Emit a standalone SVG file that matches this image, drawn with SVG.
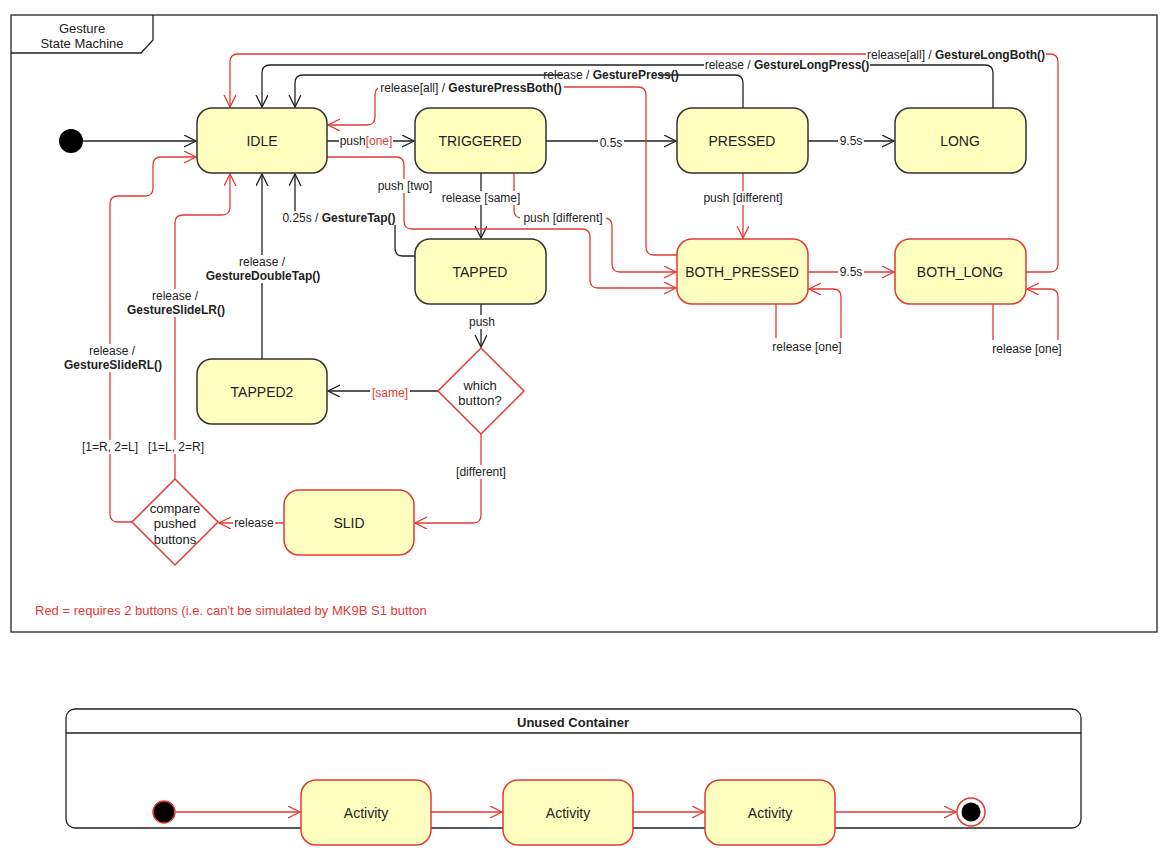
<svg xmlns="http://www.w3.org/2000/svg" width="1171" height="860" viewBox="0 0 1171 860">
<style>
text{font-family:"Liberation Sans",Arial,sans-serif;fill:#222}
.n{font-size:14px;text-anchor:middle;dominant-baseline:central}
.l{font-size:12px;text-anchor:middle;dominant-baseline:central}
.b{font-weight:bold}
.r{fill:#e53935}
.st{fill:#ffffc0;stroke:#333;stroke-width:1.5}
.sr{fill:#ffffc0;stroke:#e53935;stroke-width:1.5}
.k{fill:none;stroke:#222;stroke-width:1.3;marker-end:url(#ak)}
.kr{fill:none;stroke:#e53935;stroke-width:1.3;marker-end:url(#ar)}
.kn{fill:none;stroke:#222;stroke-width:1.3}
.bg{fill:#fff}
</style>
<defs>
<marker id="ak" markerWidth="14" markerHeight="14" refX="12" refY="6" orient="auto" markerUnits="userSpaceOnUse"><path d="M0,0 L12,6 L0,12" fill="none" stroke="#222" stroke-width="1.3"/></marker>
<marker id="ar" markerWidth="14" markerHeight="14" refX="12" refY="6" orient="auto" markerUnits="userSpaceOnUse"><path d="M0,0 L12,6 L0,12" fill="none" stroke="#e53935" stroke-width="1.3"/></marker>
</defs>
<rect width="1171" height="860" fill="#fff"/>
<g id="frame">
<rect x="11" y="15" width="1146" height="617" fill="none" stroke="#222" stroke-width="1.3"/>
<path d="M11,53 H141 L153,40 V15" fill="none" stroke="#222" stroke-width="1.3"/>
<text class="l" x="82" y="28" style="font-size:13px">Gesture</text>
<text class="l" x="82" y="43" style="font-size:13px">State Machine</text>
</g>
<g id="connectors">
<path class="k" d="M83,141 H196"/>
<path class="k" d="M327,141 H414"/>
<path class="k" d="M546,141 H676"/>
<path class="k" d="M808,141 H894"/>
<path class="k" d="M481,173 V238"/>
<path class="k" d="M415,256 H403 Q395,256 395,248 V218 H295 V174"/>
<path class="k" d="M262,359 V174"/>
<path class="k" d="M481,304 V347"/>
<path class="k" d="M438,391 H328"/>
<path class="kr" d="M481,434 V515 Q481,523 473,523 H415"/>
<path class="kr" d="M284,523 H219"/>
<path class="kr" d="M175,479 V223 Q175,215 183,215 H222 Q230,215 230,207 V174"/>
<path class="kr" d="M132,522 H118 Q110,522 110,514 V204 Q110,196 118,196 H145 Q153,196 153,188 V165 Q153,157 161,157 H196"/>
<path class="kr" d="M327,157 H396 Q404,157 404,165 V221 Q404,229 412,229 H582 Q590,229 590,237 V280 Q590,288 598,288 H676"/>
<path class="kr" d="M514,173 V210 Q514,218 522,218 H604 Q612,218 612,226 V264 Q612,272 620,272 H676"/>
<path class="kr" d="M677,255 H654 Q646,255 646,247 V95 Q646,87 638,87 H383 Q375,87 375,95 V117 Q375,125 367,125 H328"/>
<path class="k" d="M743,108 V83 Q743,75 735,75 H303 Q295,75 295,83 V107"/>
<path class="k" d="M993,108 V73 Q993,65 985,65 H270 Q262,65 262,73 V107"/>
<path class="kr" d="M1026,272 H1050 Q1058,272 1058,264 V62 Q1058,54 1050,54 H238 Q230,54 230,62 V107"/>
<path class="kr" d="M743,173 V238"/>
<path class="kr" d="M808,272 H894"/>
<path class="kr" d="M776,304 V338 M841,338 V297 Q841,289 833,289 H809"/>
<path class="kr" d="M993,304 V340 M1058,340 V297 Q1058,289 1050,289 H1027"/>
<g>
<rect class="bg" x="339" y="134" width="54" height="14"/><text class="l" x="366" y="141">push<tspan class="r">[one]</tspan></text>
<rect class="bg" x="598" y="136" width="26" height="14"/><text class="l" x="611" y="143">0.5s</text>
<rect class="bg" x="838" y="134" width="26" height="14"/><text class="l" x="851" y="141">9.5s</text>
<rect class="bg" x="440" y="191" width="82" height="14"/><text class="l" x="481" y="198">release [same]</text>
<rect class="bg" x="282" y="211" width="115" height="14"/><text class="l" x="339" y="218">0.25s / <tspan class="b">GestureTap()</tspan></text>
<rect class="bg" x="205" y="255" width="116" height="28"/><text class="l" x="262" y="262">release /</text><text class="l b" x="263" y="276">GestureDoubleTap()</text>
<rect class="bg" x="466" y="315" width="32" height="14"/><text class="l" x="482" y="322">push</text>
<rect class="bg" x="370" y="386" width="40" height="14"/><text class="l r" x="390" y="393">[same]</text>
<rect class="bg" x="454" y="465" width="54" height="14"/><text class="l" x="481" y="472">[different]</text>
<rect class="bg" x="233" y="516" width="42" height="14"/><text class="l" x="254" y="523">release</text>
<rect class="bg" x="146" y="440" width="60" height="14"/><text class="l" x="176" y="447">[1=L, 2=R]</text>
<rect class="bg" x="80" y="440" width="60" height="14"/><text class="l" x="110" y="447">[1=R, 2=L]</text>
<rect class="bg" x="125" y="289" width="102" height="28"/><text class="l" x="175" y="296">release /</text><text class="l b" x="176" y="310">GestureSlideLR()</text>
<rect class="bg" x="63" y="344" width="100" height="28"/><text class="l" x="112" y="351">release /</text><text class="l b" x="113" y="365">GestureSlideRL()</text>
<rect class="bg" x="374" y="179" width="62" height="14"/><text class="l" x="405" y="186">push [two]</text>
<rect class="bg" x="520" y="211" width="86" height="14"/><text class="l" x="563" y="218">push [different]</text>
<rect class="bg" x="378" y="81" width="186" height="14"/><text class="l" x="471" y="88">release[all] / <tspan class="b">GesturePressBoth()</tspan></text>
<rect class="bg" x="563" y="68" width="96" height="14"/><text class="l" x="611" y="75">release / <tspan class="b">GesturePress()</tspan></text>
<rect class="bg" x="704" y="58" width="166" height="14"/><text class="l" x="787" y="65">release / <tspan class="b">GestureLongPress()</tspan></text>
<rect class="bg" x="866" y="47" width="180" height="14"/><text class="l" x="956" y="55">release[all] / <tspan class="b">GestureLongBoth()</tspan></text>
<rect class="bg" x="703" y="191" width="80" height="14"/><text class="l" x="743" y="198">push [different]</text>
<rect class="bg" x="838" y="265" width="26" height="14"/><text class="l" x="851" y="272">9.5s</text>
<text class="l" x="807" y="347">release [one]</text>
<text class="l" x="1027" y="349">release [one]</text>
</g>
</g>
<g id="init"><circle cx="71" cy="141" r="12" fill="#000"/></g>
<g id="IDLE"><rect class="st" x="197" y="108" width="130" height="65" rx="15"/><text class="n" x="262" y="141">IDLE</text></g>
<g id="TRIGGERED"><rect class="st" x="415" y="108" width="131" height="65" rx="15"/><text class="n" x="480" y="141">TRIGGERED</text></g>
<g id="PRESSED"><rect class="st" x="677" y="108" width="131" height="65" rx="15"/><text class="n" x="742" y="141">PRESSED</text></g>
<g id="LONG"><rect class="st" x="895" y="108" width="131" height="65" rx="15"/><text class="n" x="960" y="141">LONG</text></g>
<g id="TAPPED"><rect class="st" x="415" y="239" width="131" height="65" rx="15"/><text class="n" x="480" y="272">TAPPED</text></g>
<g id="BOTH_PRESSED"><rect class="sr" x="677" y="239" width="131" height="65" rx="15"/><text class="n" x="742" y="272">BOTH_PRESSED</text></g>
<g id="BOTH_LONG"><rect class="sr" x="895" y="239" width="131" height="65" rx="15"/><text class="n" x="960" y="272">BOTH_LONG</text></g>
<g id="TAPPED2"><rect class="st" x="197" y="359" width="130" height="65" rx="15"/><text class="n" x="262" y="392">TAPPED2</text></g>
<g id="which"><path d="M481,348 L524,391 L481,434 L438,391 Z" fill="#fff" stroke="#e53935" stroke-width="1.5"/><text class="l" x="480" y="385" style="font-size:13px">which</text><text class="l" x="480" y="400" style="font-size:13px">button?</text></g>
<g id="SLID"><rect class="sr" x="284" y="490" width="130" height="65" rx="15"/><text class="n" x="349" y="523">SLID</text></g>
<g id="compare"><path d="M175,479 L218,522 L175,565 L132,522 Z" fill="#fff" stroke="#e53935" stroke-width="1.5"/><text class="l" x="175" y="508" style="font-size:13px">compare</text><text class="l" x="175" y="523" style="font-size:13px">pushed</text><text class="l" x="175" y="539" style="font-size:13px">buttons</text></g>
<g id="note"><text x="35" y="615" style="font-size:13px" class="r">Red = requires 2 buttons (i.e. can't be simulated by MK9B S1 button</text></g>
<g id="container">
<rect x="66" y="709" width="1015" height="119" rx="9" fill="#fff" stroke="#222" stroke-width="1.3"/>
<line x1="66" y1="733" x2="1081" y2="733" stroke="#222" stroke-width="1.3"/>
<text class="l b" x="573" y="722" style="font-size:13px">Unused Container</text>
</g>
<g id="c-connectors">
<path class="kr" d="M176,812 H300"/>
<path class="kr" d="M431,812 H502"/>
<path class="kr" d="M633,812 H704"/>
<path class="kr" d="M835,812 H956"/>
</g>
<g id="c-init"><circle cx="164" cy="812" r="11" fill="#000" stroke="#e53935" stroke-width="1.5"/></g>
<g id="act1"><rect class="sr" x="301" y="780" width="130" height="65" rx="15"/><text class="n" x="366" y="813">Activity</text></g>
<g id="act2"><rect class="sr" x="503" y="780" width="130" height="65" rx="15"/><text class="n" x="568" y="813">Activity</text></g>
<g id="act3"><rect class="sr" x="705" y="780" width="130" height="65" rx="15"/><text class="n" x="770" y="813">Activity</text></g>
<g id="final"><circle cx="971" cy="812" r="14" fill="#fff" stroke="#e53935" stroke-width="1.5"/><circle cx="971" cy="812" r="9.5" fill="#000"/></g>
</svg>
